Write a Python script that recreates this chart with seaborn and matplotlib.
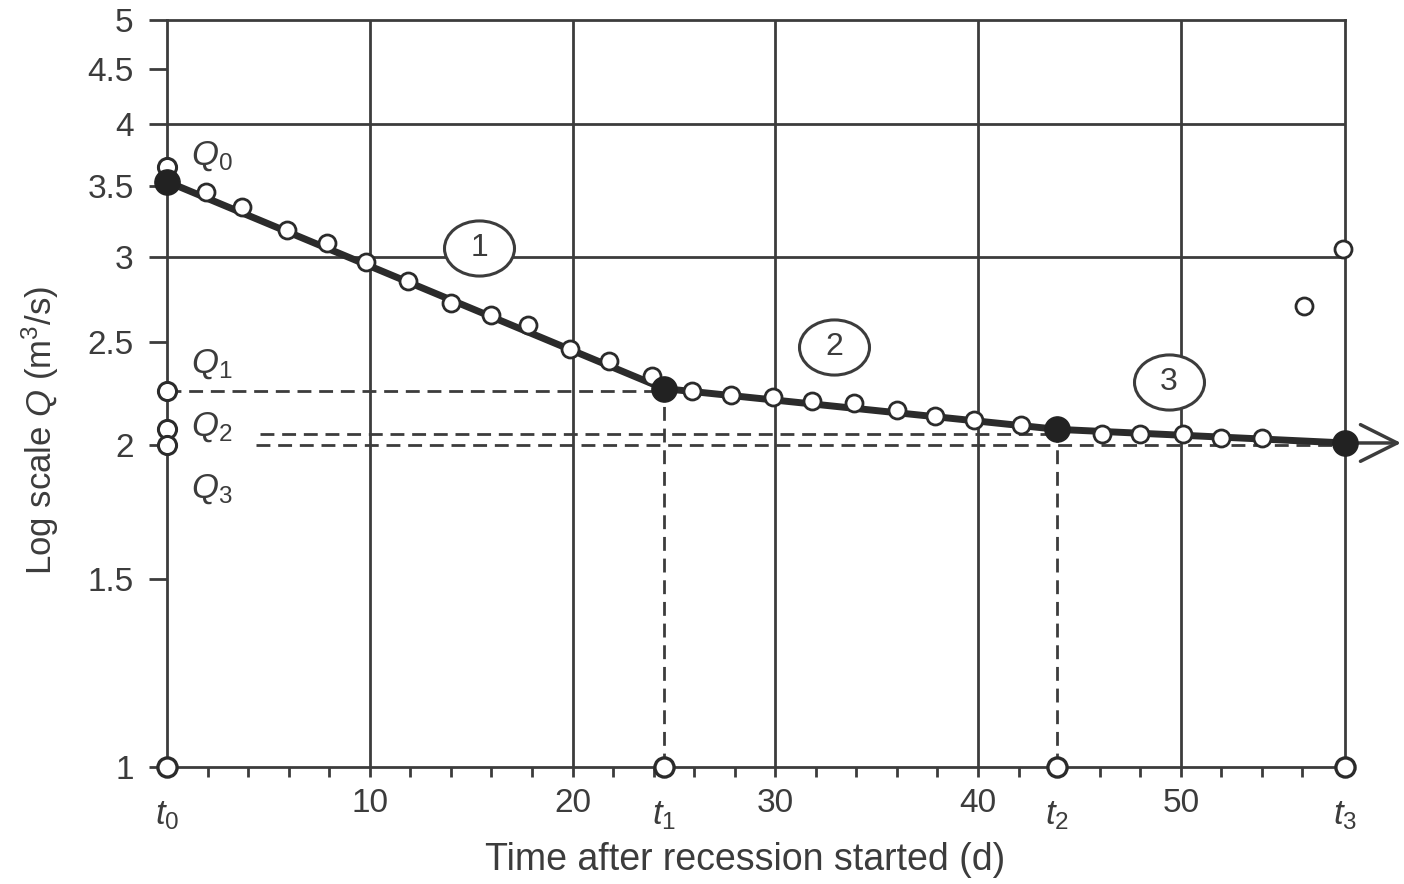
import numpy as np
import pandas as pd
import seaborn as sns
import matplotlib.pyplot as plt
from matplotlib.path import Path
from matplotlib.ticker import FixedLocator, NullLocator

# break points of the three recession segments
t_days = [0, 24.5, 43.9, 58.1]
t_labels = ["$t_0$", "$t_1$", "$t_2$", "$t_3$"]
q_break = [3.53, 2.26, 2.07, 2.01]

# open circles
obs_day = [1.9, 3.7, 5.9, 7.9, 9.8, 11.9, 14.0, 16.0, 17.8, 19.9, 21.8, 23.9,
           25.9, 27.8, 29.9, 31.8, 33.9, 36.0, 37.9, 39.8, 42.1,
           46.1, 48.0, 50.1, 52.0, 54.0]
obs_q = [3.45, 3.34, 3.18, 3.09, 2.97, 2.85, 2.72, 2.65, 2.59, 2.46, 2.40, 2.32,
         2.25, 2.23, 2.22, 2.20, 2.19, 2.16, 2.13, 2.11, 2.09,
         2.05, 2.05, 2.05, 2.03, 2.03]

# two stray points at the right edge
stray_day = [56.1, 58.0]
stray_q = [2.70, 3.05]

# discharges marked on the y axis and their dashed levels
q_axis = [3.64, 2.25, 2.07, 2.00]
q_names = ["$Q_0$", "$Q_1$", "$Q_2$", "$Q_3$"]
q_level = [2.25, 2.05, 2.00]
q_level_start = [0, 4.6, 4.4]

# circled segment numbers
seg_names = ["1", "2", "3"]
seg_day = [15.4, 32.9, 49.4]
seg_q = [3.06, 2.47, 2.29]

y_ticks = [1, 1.5, 2, 2.5, 3, 3.5, 4, 4.5, 5]
y_ticklabels = ["1", "1.5", "2", "2.5", "3", "3.5", "4", "4.5", "5"]
x_ticks = [10, 20, 30, 40, 50]

INK = "#3c3c3c"

sns.set_theme(style="white")
plt.rcParams["font.family"] = ["Liberation Sans", "DejaVu Sans"]
plt.rcParams["mathtext.fontset"] = "custom"
plt.rcParams["mathtext.rm"] = "Liberation Sans"
plt.rcParams["mathtext.it"] = "Liberation Sans:italic"
plt.rcParams["text.color"] = INK
plt.rcParams["axes.labelcolor"] = INK

fig = plt.figure(figsize=(14.04, 8.84), dpi=100)
ax = fig.add_axes([167 / 1404, 1 - 767 / 884, (1345 - 167) / 1404, (767 - 20) / 884])

ax.set_yscale("log")
ax.set_ylim(1, 5)
ax.set_xlim(0, t_days[-1])

# frame and grid
for side in ax.spines.values():
    side.set_color(INK)
    side.set_linewidth(2)
ax.xaxis.set_major_locator(FixedLocator(x_ticks))
ax.xaxis.set_minor_locator(FixedLocator([d for d in range(2, 58, 2) if d % 10]))
ax.set_xticklabels([str(v) for v in x_ticks])
ax.set_yticks(y_ticks, y_ticklabels)
ax.yaxis.set_minor_locator(NullLocator())
ax.grid(axis="x", color=INK, lw=2)
for lev in [3, 4]:
    ax.axhline(lev, color=INK, lw=2, zorder=1)

ax.tick_params(axis="y", which="major", direction="out", length=13, width=2,
               color=INK, labelcolor=INK, labelsize=24, pad=11, left=True)
ax.tick_params(axis="x", which="both", direction="out", length=7, width=2,
               color=INK, labelcolor=INK, labelsize=24, pad=8, bottom=True)

# dashed construction lines
dash = dict(color=INK, lw=2, ls=(0, (5, 2.8)), zorder=2)
for lev, x0, tx in zip(q_level, q_level_start, t_days[1:]):
    ax.plot([x0, tx], [lev, lev], **dash)
for tx, qv in zip(t_days[1:3], q_break[1:3]):
    ax.plot([tx, tx], [1, qv], **dash)

# recession segments
seg_df = pd.DataFrame({"day": t_days, "q": q_break})
sns.lineplot(data=seg_df, x="day", y="q", sort=False, color="#2b2b2b",
             lw=5, ax=ax, zorder=3)
ax.annotate("", xy=(61.0, q_break[-1]), xytext=(t_days[-1], q_break[-1]),
            xycoords="data", annotation_clip=False,
            arrowprops=dict(arrowstyle="->,head_length=1.1,head_width=0.55",
                            color=INK, lw=2.5, mutation_scale=24))

# observed points
obs_df = pd.DataFrame({"day": obs_day + stray_day, "q": obs_q + stray_q})
sns.scatterplot(data=obs_df, x="day", y="q", s=150, marker="o", color="white",
                edgecolor="#2b2b2b", linewidth=2, ax=ax, zorder=4, clip_on=False)

# Q circles on the y axis
ax.scatter([0] * len(q_axis), q_axis, s=170, facecolor="white",
           edgecolor="#2b2b2b", linewidth=2.2, zorder=4, clip_on=False)
# t circles on the x axis
ax.scatter(t_days, [1] * len(t_days), s=190, facecolor="white",
           edgecolor="#2b2b2b", linewidth=2.4, zorder=5, clip_on=False)
# filled break points
ax.scatter(t_days, q_break, s=330, color="#222222", zorder=6, clip_on=False)

# labels of Q and t
q_text_y = [3.73, 2.38, 2.08, 1.82]
for name, qy in zip(q_names, q_text_y):
    ax.text(1.2, qy, name, fontsize=25, ha="left", va="center")
for name, tx in zip(t_labels, t_days):
    ax.annotate(name, xy=(tx, 1), xycoords="data", xytext=(0, -23),
                textcoords="offset points", ha="center", va="top",
                fontsize=25, annotation_clip=False)

# circled segment numbers: flat ellipse marker with the digit on top
circ = Path.unit_circle()
oval = Path(circ.vertices * np.array([1.27, 1.0]), circ.codes)
ax.scatter(seg_day, seg_q, marker=oval, s=2540, facecolor="white",
           edgecolor=INK, linewidth=2.2, zorder=5)
for name, sx, sy in zip(seg_names, seg_day, seg_q):
    ax.text(sx, sy, name, fontsize=23, ha="center", va="center", zorder=6)

ax.set_xlabel("Time after recession started (d)", fontsize=27)
ax.xaxis.label.set_va("center")
ax.xaxis.set_label_coords((745 - 167) / 1178, (767 - 860) / 747)
ax.set_ylabel("Log scale $Q$ (m$^3$/s)", fontsize=25)
ax.yaxis.label.set_va("center")
ax.yaxis.set_label_coords((40 - 167) / 1178, (767 - 431) / 747)

fig.savefig("out.png", dpi=100)
